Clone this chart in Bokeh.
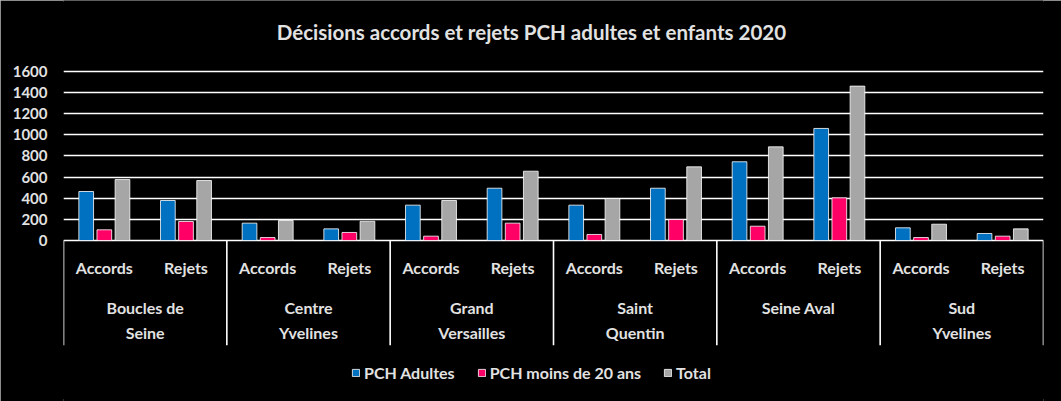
from bokeh.plotting import figure
from bokeh.models import ColumnDataSource, FactorRange, Range1d, FixedTicker
from bokeh.transform import dodge
from bokeh.core.properties import value
from bokeh.embed import file_html
from bokeh.resources import INLINE

# ---------------- data ----------------
groups = ["Boucles de\nSeine", "Centre\nYvelines", "Grand\nVersailles",
          "Saint\nQuentin", "Seine Aval", "Sud\nYvelines"]
subs = ["Accords", "Rejets"]
series_names = ["PCH Adultes", "PCH moins de 20 ans", "Total"]
pch_adultes = [463, 378, 164, 110, 334, 494, 334, 494, 744, 1059, 120, 66]
pch_moins20 = [101, 180, 28, 76, 41, 164, 57, 198, 135, 403, 28, 41]
total = [576, 567, 189, 182, 378, 655, 397, 696, 885, 1459, 154, 110]
y_ticks = [0, 200, 400, 600, 800, 1000, 1200, 1400, 1600]
title_text = "Décisions accords et rejets PCH adultes et enfants 2020"

colors = ["#0070C0", "#FF0066", "#A6A6A6"]
FONT = "Lato"
TXT = "#e2e2e2"

factors = [(g, s) for g in groups for s in subs]
src = ColumnDataSource(dict(x=factors, a=pch_adultes, m=pch_moins20, t=total))

p = figure(width=1061, height=401, x_range=FactorRange(*factors, range_padding=0,
           group_padding=0, factor_padding=0),
           y_range=Range1d(-1521.6, 2268.2), output_backend="svg",
           toolbar_location=None, x_axis_location=None,
           min_border_left=63, min_border_right=18, min_border_top=0,
           min_border_bottom=0)
p.background_fill_color = "black"
p.border_fill_color = "black"
p.outline_line_color = None
p.styles = {"background-color": "black", "outline": "2px solid #bdbdbd",
            "outline-offset": "-2px"}

# y axis
p.yaxis.ticker = FixedTicker(ticks=y_ticks)
p.yaxis.axis_line_color = None
p.yaxis.major_tick_line_color = None
p.yaxis.minor_tick_line_color = None
p.yaxis.major_tick_out = 0
p.yaxis.major_label_standoff = 16
p.yaxis.major_label_text_font = FONT
p.yaxis.major_label_text_font_style = "bold"
p.yaxis.major_label_text_font_size = "15px"
p.yaxis.major_label_text_color = TXT

p.xgrid.visible = False
p.ygrid.ticker = FixedTicker(ticks=y_ticks)
p.ygrid.grid_line_color = "white"
p.ygrid.grid_line_width = 1.6

# bars
offs = [-0.222, 0.0, 0.222]
for col, name, c, o in zip(["a", "m", "t"], series_names, colors, offs):
    p.vbar(x=dodge("x", o, range=p.x_range), top=col, width=0.18, source=src,
           fill_color=c, line_color="white", line_width=0.8, legend_label=name)

# group separators below the axis
n_cat = len(factors)
bounds = list(range(0, n_cat + 1, len(subs)))
p.multi_line(xs=[[b, b] for b in bounds], ys=[[0, -990] for b in bounds],
             line_color="white", line_width=1.6)

# sub labels
p.text(x=factors, y=[-255] * len(factors), text=[f[1] for f in factors],
       text_align="center", text_baseline="middle", text_font=value(FONT),
       text_font_style="bold", text_font_size="16px", text_color=TXT)

# group labels (two lines)
line1 = [g.split("\n")[0] for g in groups]
g2 = [g for g in groups if "\n" in g]
line2 = [g.split("\n")[1] for g in g2]
p.text(x=groups, y=[-630] * len(groups), text=line1, text_align="center",
       text_baseline="middle", text_font=value(FONT), text_font_style="bold",
       text_font_size="16px", text_color=TXT)
p.text(x=g2, y=[-870] * len(g2), text=line2, text_align="center",
       text_baseline="middle", text_font=value(FONT), text_font_style="bold",
       text_font_size="16px", text_color=TXT)

# title
p.text(x=[5.73], y=[1966], text=[title_text], text_align="center",
       text_baseline="middle", text_font=value(FONT), text_font_style="bold",
       text_font_size="20.5px", text_color=TXT)

# legend
lg = p.legend[0]
lg.orientation = "horizontal"
lg.location = (288, 19)
lg.background_fill_alpha = 0
lg.border_line_alpha = 0
lg.padding = 0
lg.margin = 0
lg.spacing = 22
lg.glyph_width = 9
lg.glyph_height = 9
lg.label_standoff = 4
lg.label_text_font = FONT
lg.label_text_font_style = "bold"
lg.label_text_font_size = "16px"
lg.label_text_color = TXT

open("out.html", "w").write(file_html(p, INLINE))
